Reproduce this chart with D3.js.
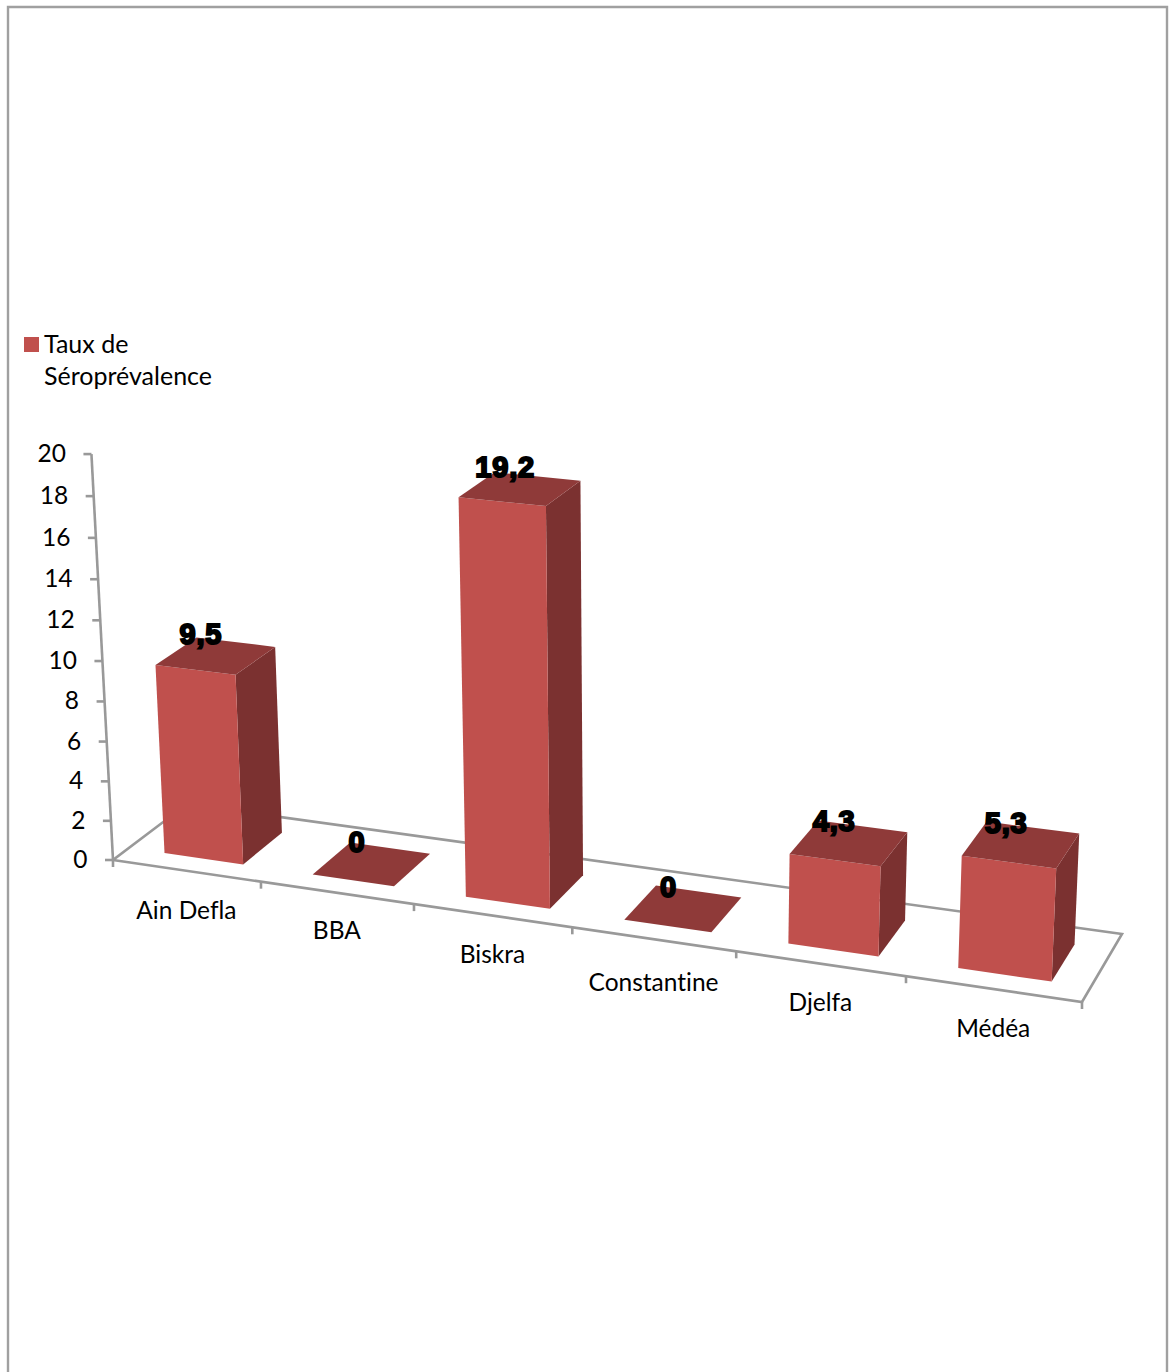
<!DOCTYPE html>
<html>
<head>
<meta charset="utf-8">
<style>
html,body{margin:0;padding:0;background:#fff}
svg{display:block}
text{font-family:Lato,"Noto Sans",sans-serif;fill:#000;font-variant-ligatures:none}
</style>
<script src="https://cdn.jsdelivr.net/npm/d3@7/dist/d3.min.js"></script>
</head>
<body>
<svg id="chart" width="1169" height="1372"></svg>
<script>
// Seroprevalence per wilaya
const categories = ["Ain Defla", "BBA", "Biskra", "Constantine", "Djelfa", "Médéa"];
const seroprevalence = [9.5, 0, 19.2, 0, 4.3, 5.3];
const valueLabels = ["9,5", "0", "19,2", "0", "4,3", "5,3"];
const legendLines = ["Taux de", "Séroprévalence"];

const FRONT = "#c0504d", TOP = "#8f3a39", SIDE = "#7b3130", AXIS = "#999999";

// Floor quad of the 3-D plot (front-left, front-right, back-right, back-left)
const [q0, q1, q2, q3] = [[113, 860], [1082, 1002], [1122, 934], [187, 804]];
const dx1 = q1[0] - q2[0], dx2 = q3[0] - q2[0], sx = q0[0] - q1[0] + q2[0] - q3[0];
const dy1 = q1[1] - q2[1], dy2 = q3[1] - q2[1], sy = q0[1] - q1[1] + q2[1] - q3[1];
const den = dx1 * dy2 - dx2 * dy1;
const g = (sx * dy2 - dx2 * sy) / den, h = (dx1 * sy - sx * dy1) / den;
const a = q1[0] - q0[0] + g * q1[0], b = q3[0] - q0[0] + h * q3[0];
const d = q1[1] - q0[1] + g * q1[1], e = q3[1] - q0[1] + h * q3[1];

// Vertical vanishing point and perspective strength
const vanish = [650, 10970], persp = 0.00193;

const x = d3.scaleBand().domain(categories).range([0.002, 1.002]).paddingInner(0.465).paddingOuter(0.2325);
const y = d3.scaleLinear().domain([0, 20]).range([0, 20]);
const z = d3.scaleLinear().domain([0, 1]).range([0, 1]);

function project(u, v, w) {
  const V = y(v), Z = z(w);
  const W = g * u + h * Z + 1 - persp * V;
  return [
    (a * u + b * Z + q0[0] - persp * vanish[0] * V) / W,
    (d * u + e * Z + q0[1] - persp * vanish[1] * V) / W
  ];
}

const svg = d3.select("#chart");
const poly = pts => d3.line()(pts) + "Z";

// Page frame, open along the bottom
svg.append("path").attr("d", "M8,1372V7H1167V1372").attr("fill", "none")
  .attr("stroke", "#a0a0a0").attr("stroke-width", 2.4);

// Legend
svg.append("rect").attr("x", 24).attr("y", 337).attr("width", 15).attr("height", 15).attr("fill", FRONT);
svg.selectAll(".legend").data(legendLines).join("text").attr("class", "legend")
  .attr("x", 44).attr("y", (t, i) => 353 + i * 32).attr("font-size", 25).text(t => t);

// Floor outline and the value axis
const axes = svg.append("g").attr("fill", "none").attr("stroke", AXIS).attr("stroke-width", 2.6);
axes.append("path").attr("d", poly([project(0, 0, 0), project(1, 0, 0), project(1, 0, 1), project(0, 0, 1)]));
axes.append("path").attr("d", d3.line()([project(0, 0, 0), project(0, 20, 0)]));

const valueTicks = y.ticks(10);
valueTicks.forEach(t => {
  const p = project(0, t, 0);
  axes.append("path").attr("d", d3.line()([[p[0] - 8, p[1]], p]));
});
svg.selectAll(".ytick").data(valueTicks).join("text").attr("class", "ytick")
  .attr("text-anchor", "end").attr("font-size", 24.5)
  .attr("x", t => project(0, t, 0)[0] - 25.5)
  .attr("y", t => project(0, t, 0)[1] + 8)
  .text(t => t);

// Category ticks and labels along the front edge; the labels sit unevenly below the edge
const labelDrop = [48, 46, 47, 52, 47, 48];
d3.range(0, categories.length + 1).forEach(i => {
  const p = project(i / categories.length, 0, 0);
  axes.append("path").attr("d", d3.line()([p, [p[0], p[1] + 7]]));
});
svg.selectAll(".xtick").data(categories).join("text").attr("class", "xtick")
  .attr("text-anchor", "middle").attr("font-size", 24.5)
  .attr("x", (c, i) => project((i + 0.5) / categories.length, 0, 0)[0])
  .attr("y", (c, i) => project((i + 0.5) / categories.length, 0, 0)[1] + labelDrop[i])
  .text(c => c);

// Bars: side, top, then front face of each box
const depth = [0.21, 0.76];
const bars = svg.append("g").selectAll("g").data(categories).join("g");
bars.each(function (c, i) {
  const u0 = x(c), u1 = u0 + x.bandwidth(), v = seroprevalence[i], sel = d3.select(this);
  const [d0, d1] = depth;
  if (v > 0) {
    sel.append("path").attr("fill", SIDE)
      .attr("d", poly([project(u1, 0, d0), project(u1, v, d0), project(u1, v, d1), project(u1, 0, d1)]));
    sel.append("path").attr("fill", FRONT)
      .attr("d", poly([project(u0, 0, d0), project(u1, 0, d0), project(u1, v, d0), project(u0, v, d0)]));
  }
  sel.append("path").attr("fill", TOP)
    .attr("d", poly([project(u0, v, d0), project(u1, v, d0), project(u1, v, d1), project(u0, v, d1)]));
});

// Value labels above each box top
svg.selectAll(".value").data(categories).join("text").attr("class", "value")
  .attr("text-anchor", "middle").attr("font-size", 29).attr("font-weight", 700)
  .style("font-family", "'Liberation Sans',Arial,sans-serif")
  .attr("stroke", "#000").attr("stroke-width", 2).attr("letter-spacing", 0.8)
  .attr("x", (c, i) => project(x(c) + x.bandwidth() / 2, seroprevalence[i], 0.48)[0] - 14.5)
  .attr("y", (c, i) => project(x(c) + x.bandwidth() / 2, seroprevalence[i], 0.48)[1] - 12)
  .text((c, i) => valueLabels[i]);
</script>
</body>
</html>
